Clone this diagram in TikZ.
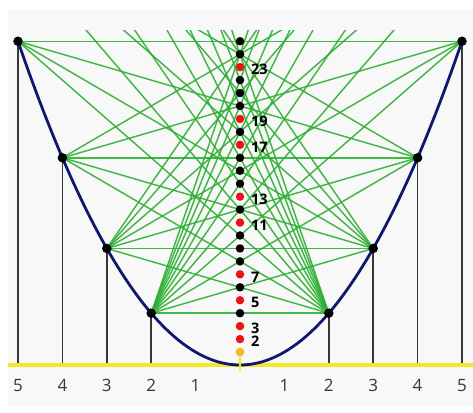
\documentclass[tikz,border=0pt]{standalone}
\usepackage{fontspec}
\setmainfont{Open Sans}
\definecolor{bggray}{RGB}{248,248,248}
\definecolor{lgreen}{RGB}{45,175,50}
\definecolor{navy}{RGB}{16,24,110}
\definecolor{vgray}{RGB}{55,55,55}
\definecolor{yel}{RGB}{240,232,40}
\definecolor{ydot}{RGB}{245,185,40}
\definecolor{rdot}{RGB}{235,20,20}
\tikzset{
  greenline/.style={draw=lgreen, line width=1.45pt, opacity=0.9},
  parab/.style={draw=navy, line width=2.8pt},
  vline/.style={draw=vgray, line width=1.7pt},
  baseline/.style={draw=yel, line width=3.5pt},
  ptdot/.style={circle, fill=black, inner sep=0pt, minimum size=9.5pt},
  axdot/.style={circle, fill=black, inner sep=0pt, minimum size=8.5pt},
  primedot/.style={axdot, fill=rdot},
  onedot/.style={axdot, fill=ydot},
  plabel/.style={anchor=west, inner sep=0pt, font=\fontsize{14.5}{14.5}\selectfont\bfseries, xshift=11pt, yshift=-2.5pt},
  xlabel/.style={inner sep=0pt, text=vgray, font=\fontsize{17}{17}\selectfont}
}
\begin{document}
\begin{tikzpicture}[x=44.4pt,y=12.95pt]
\useasboundingbox (-5.4054,-3.6293) rectangle (5.2477,28.185);
\fill[white] (-5.4054,-3.6293) rectangle (5.2477,28.185);
\fill[bggray] (-5.225,-3.243) rectangle (5.2477,27.413);
% coordinates on the parabola
\foreach \a in {2,...,12}{
  \coordinate (L\a) at (-\a,{\a*\a});
  \coordinate (R\a) at (\a,{\a*\a});
}
% green lines
\begin{scope}
\clip (-5.5,-1) rectangle (5.5,25.8);
\foreach \a in {2,...,12}{
  \foreach \b in {2,...,12}{
    \pgfmathtruncatemacro\p{\a*\b}
    \ifnum\p<26 \draw[greenline] (L\a) -- (R\b);\fi
  }
}
\end{scope}
% baseline
\coordinate (BL) at (-5.225,0);
\coordinate (BR) at (5.2477,0);
\coordinate (O) at (0,-0.45);
% vertical lines
\foreach \k in {2,...,5}{
  \coordinate (BL\k) at (-\k,0);
  \coordinate (BR\k) at (\k,0);
  \draw[vline] (L\k) -- (BL\k);
  \draw[vline] (R\k) -- (BR\k);
}
\draw[baseline] (BL) -- (BR);
% parabola
\draw[parab] plot[domain=-5:5, samples=121] (\x,{\x*\x});
% parabola points
\foreach \k in {2,...,5}{
  \node[ptdot] (PL\k) at (L\k) {};
  \node[ptdot] (PR\k) at (R\k) {};
}
% axis dots
\node[onedot] (n1) at (0,1) {};
\draw[draw=yel, line width=1.5pt] (O) -- (n1);
\node[onedot] at (0,1) {};
\foreach \n in {4,6,8,9,10,12,14,15,16,18,20,21,22,24,25}{
  \node[axdot] (n\n) at (0,\n) {};
}
\foreach \n in {2,3,5,7,11,13,17,19,23}{
  \node[primedot] (n\n) at (0,\n) {};
  \node[plabel] (lab\n) at (0,\n) {\n};
}
% x labels
\foreach \k in {1,...,5}{
  \node[xlabel] (xl\k) at (-\k,-1.55) {\k};
  \node[xlabel] (xr\k) at (\k,-1.55) {\k};
}
\end{tikzpicture}
\end{document}
